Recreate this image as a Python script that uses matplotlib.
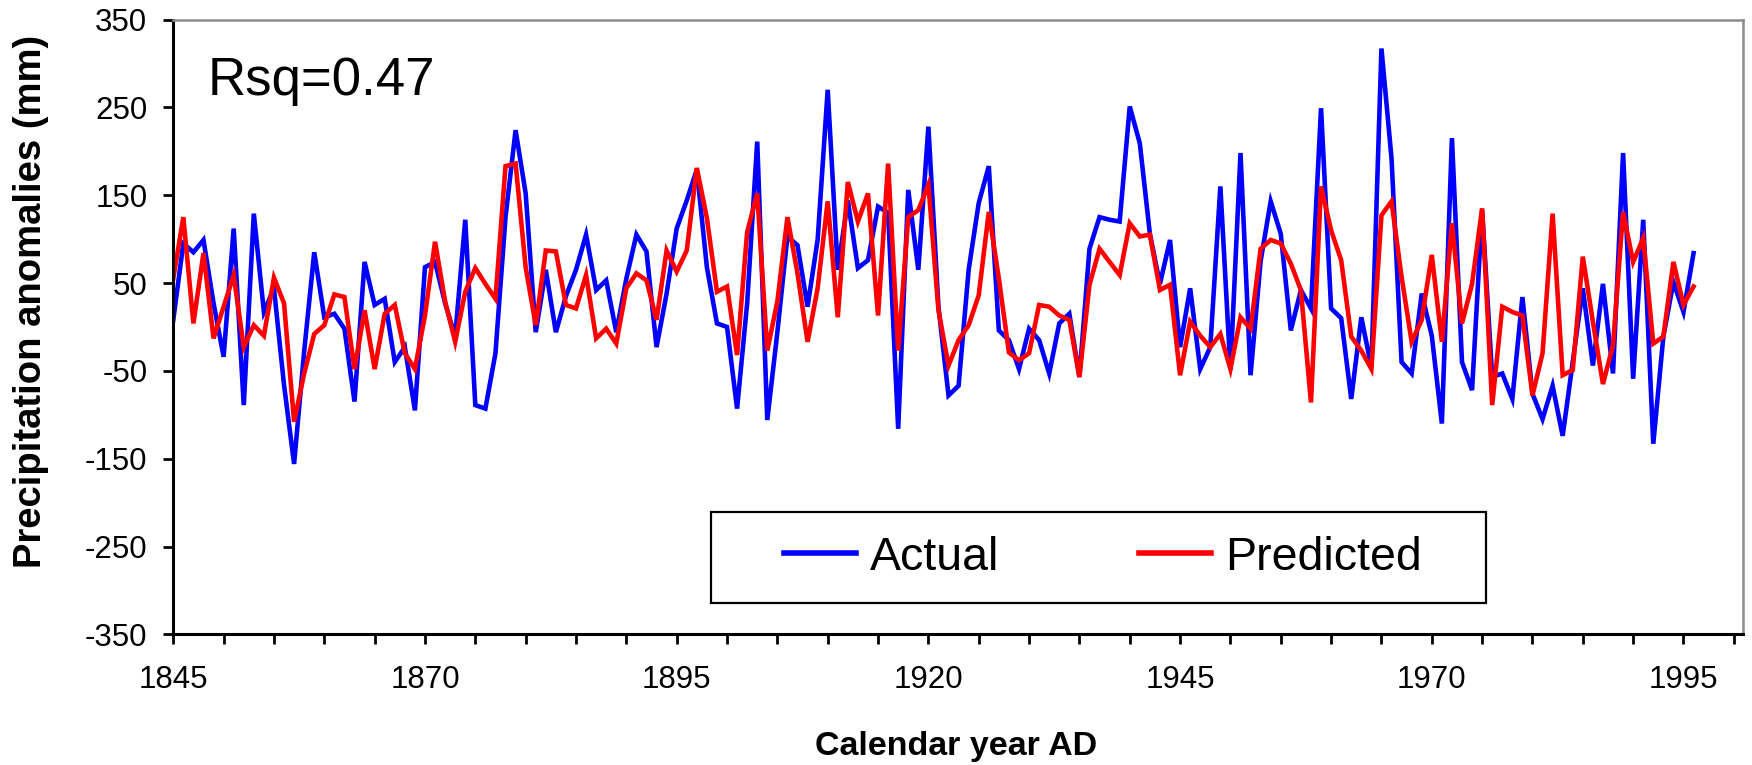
import matplotlib
matplotlib.use("Agg")
import matplotlib.pyplot as plt
from matplotlib.patches import Rectangle
import numpy as np

plt.rcParams['font.family'] = ['Liberation Sans', 'DejaVu Sans']
plt.rcParams['axes.unicode_minus'] = False

years = np.arange(1845, 1997)

actual = [
    8, 95, 85, 99, 27, -34, 112, -89, 129, 17,            # 1845-1854
    44, -66, -156, -28, 85, 11, 15, -2, -85, 74,          # 1855-1864
    25, 32, -40, -23, -95, 68, 74, 27, -11, 122,          # 1865-1874
    -89, -93, -30, 125, 224, 152, -6, 65, -6, 35,         # 1875-1884
    65, 105, 42, 53, -6, 55, 105, 86, -23, 38,            # 1885-1894
    112, 144, 179, 68, 4, 0, -93, 27, 211, -106,          # 1895-1904
    -6, 103, 93, 23, 99, 270, 65, 144, 67, 76,            # 1905-1914
    137, 130, -116, 156, 65, 228, 23, -78, -67, 65,       # 1915-1924
    141, 183, -4, -15, -48, -2, -15, -53, 4, 15,          # 1925-1934
    -57, 89, 125, 122, 120, 251, 209, 106, 49, 99,        # 1935-1944
    -23, 44, -48, -23, 160, -49, 198, -55, 75, 143,       # 1945-1954
    106, -4, 42, 21, 249, 21, 10, -82, 11, -46,           # 1955-1964
    317, 192, -40, -53, 38, -10, -110, 215, -40, -72,     # 1965-1974
    133, -57, -53, -82, 34, -76, -105, -67, -124, -40,    # 1975-1984
    44, -44, 49, -53, 198, -59, 122, -133, -11, 51,       # 1985-1994
    17, 84,                                               # 1995-1996
]

predicted = [
    55, 125, 4, 84, -13, 23, 59, -23, 2, -10,             # 1845-1854
    56, 27, -108, -53, -8, 2, 37, 34, -48, 19,            # 1855-1864
    -48, 15, 25, -30, -48, 13, 97, 29, -17, 40,           # 1865-1874
    67, 49, 32, 183, 186, 68, 2, 87, 86, 25,              # 1875-1884
    21, 59, -13, -2, -19, 44, 61, 53, 8, 87,              # 1885-1894
    63, 87, 181, 124, 40, 46, -32, 108, 152, -27,         # 1895-1904
    29, 125, 61, -17, 44, 143, 11, 165, 120, 152,         # 1905-1914
    13, 186, -27, 125, 133, 162, 19, -44, -15, 2,         # 1915-1924
    36, 131, 55, -29, -38, -30, 25, 23, 13, 8,            # 1925-1934
    -57, 48, 89, 74, 59, 118, 103, 105, 42, 48,           # 1935-1944
    -55, 6, -10, -23, -8, -48, 11, -2, 89, 99,            # 1945-1954
    95, 72, 42, -86, 160, 110, 76, -11, -27, -48,         # 1955-1964
    127, 143, 57, -17, 8, 82, -17, 118, 4, 49,            # 1965-1974
    135, -89, 23, 17, 13, -78, -30, 129, -55, -49,        # 1975-1984
    80, 6, -65, -21, 131, 74, 101, -19, -11, 74,          # 1985-1994
    25, 46,                                               # 1995-1996
]

rsq_text = 'Rsq=0.47'
x_major = np.arange(1845, 1996, 25)
x_minor = np.arange(1845, 2001, 5)
y_ticks = np.arange(-350, 351, 100)

fig = plt.figure(figsize=(17.52, 7.65), dpi=100)
ax = fig.add_axes([0.0989, 0.1708, 0.8959, 0.8037])

ax.plot(years, actual, color='#0000FF', linewidth=3.3, solid_joinstyle='miter', label='Actual')
ax.plot(years, predicted, color='#FF0000', linewidth=3.3, solid_joinstyle='miter', label='Predicted')

ax.set_xlim(1845, 2000.9)
ax.set_ylim(-350, 350)
ax.set_xticks(x_major)
ax.set_xticks(x_minor, minor=True)
ax.set_yticks(y_ticks)

# spines: heavy black left/bottom, thin gray top/right
for side in ['left', 'bottom']:
    ax.spines[side].set_linewidth(2.2)
    ax.spines[side].set_color('black')
for side in ['top', 'right']:
    ax.spines[side].set_linewidth(1.8)
    ax.spines[side].set_color('#8c8c8c')

ax.tick_params(axis='both', which='both', direction='out', length=7.2, width=2, labelsize=22.5)
ax.tick_params(axis='x', which='both', pad=15, top=False)
ax.tick_params(axis='y', pad=11.5, right=False)

ax.text(0.0221, 0.8772, rsq_text, transform=ax.transAxes, fontsize=38, va='baseline', ha='left')

# legend box
ax.add_patch(Rectangle((0.3423, 0.0503), 0.494, 0.1491, transform=ax.transAxes,
                       fill=False, edgecolor='black', linewidth=1.6, zorder=5))
leg = ax.legend(loc='center', bbox_to_anchor=(0.5923, 0.1249), ncol=2, frameon=False,
                fontsize=33.5, handlelength=1.55, handletextpad=0.3, columnspacing=3.0)
for line in leg.get_lines():
    line.set_linewidth(4)

fig.text(31 / 1752, 1 - 301.5 / 765, 'Precipitation anomalies (mm)', rotation=90,
         fontsize=27.5, fontweight='bold', ha='center', va='center')
fig.text(956 / 1752, 1 - 746 / 765, 'Calendar year AD', fontsize=24.5, fontweight='bold',
         ha='center', va='center')

fig.savefig('out.png', dpi=100)
